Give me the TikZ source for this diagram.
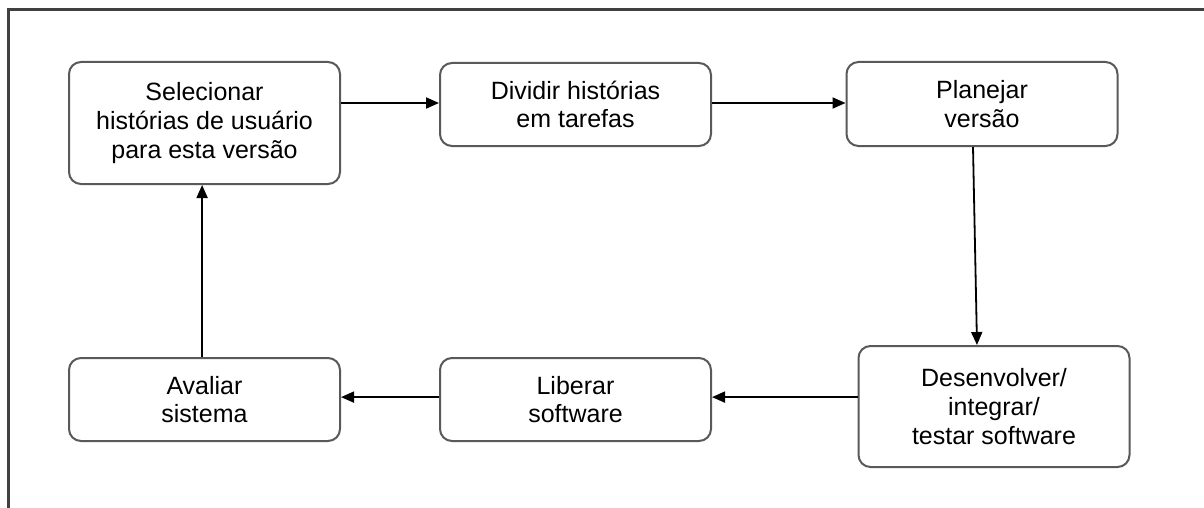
\documentclass[tikz,border=0pt]{standalone}
\usepackage{fontspec}
\setmainfont{Liberation Sans}
\usetikzlibrary{arrows.meta}
\begin{document}
\begin{tikzpicture}[x=0.5pt,y=-0.5pt,
  box/.style={draw=black!65,line width=1pt,rounded corners=6pt,fill=white,
    align=center,font=\fontsize{12.5pt}{14.4pt}\selectfont,inner sep=0pt,
    minimum width=135.5pt},
  arr/.style={draw=black,line width=0.9pt,-{Triangle[length=6.5pt,width=5.5pt]}},
  frame/.style={draw=black!75,line width=1.5pt}]
\useasboundingbox (0,0) rectangle (1204,508);
\coordinate (ftl) at (8,10);
\coordinate (fbl) at (8,510);
\coordinate (ftr) at (1206,10);
\draw[frame] (fbl) -- (ftl) -- (ftr);
\node[box,minimum height=61pt] (sel) at (204.5,123) {Selecionar\\histórias de usuário\\para esta versão};
\node[box,minimum height=41.5pt] (div) at (575.5,104.5) {Dividir histórias\\em tarefas};
\node[box,minimum height=42pt] (pla) at (982,104) {Planejar\\versão};
\node[box,minimum height=60.5pt] (dev) at (994,406.5) {Desenvolver/\\integrar/\\testar software};
\node[box,minimum height=41.5pt] (lib) at (575.5,399.5) {Liberar\\software};
\node[box,minimum height=41.5pt] (ava) at (204.5,399.5) {Avaliar\\sistema};
\draw[arr] ([yshift=0.75pt]sel.east |- div.west) -- ([yshift=0.75pt]div.west);
\draw[arr] ([yshift=0.75pt]div.east) -- ([yshift=0.75pt]pla.west |- div.east);
\draw[arr] ([xshift=-4.5pt]pla.south) -- ([xshift=-8.5pt]dev.north);
\draw[arr] ([yshift=1.2pt]dev.west |- lib.east) -- ([yshift=1.2pt]lib.east);
\draw[arr] ([yshift=1.2pt]lib.west) -- ([yshift=1.2pt]ava.east);
\draw[arr] ([xshift=-1.2pt]ava.north) -- ([xshift=-1.2pt]sel.south);
\end{tikzpicture}
\end{document}
